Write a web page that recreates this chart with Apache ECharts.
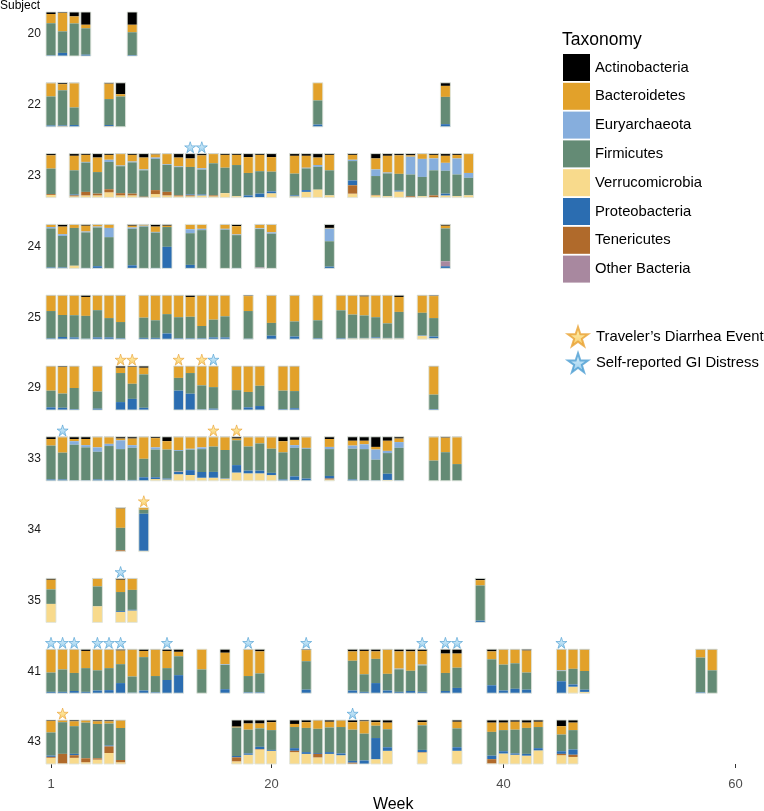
<!DOCTYPE html>
<html><head><meta charset="utf-8">
<script src="https://cdn.jsdelivr.net/npm/echarts@6/dist/echarts.min.js"></script>
<style>html,body{margin:0;padding:0;background:#fff}#c{width:764px;height:811px}</style>
</head><body><div id="c"></div>
<script>
const FONT = 'Liberation Sans, Arial, Helvetica, sans-serif';
const subjects = ['20','22','23','24','25','29','33','34','35','41','43'];
const taxa = ['Actinobacteria','Bacteroidetes','Euryarchaeota','Firmicutes','Verrucomicrobia','Proteobacteria','Tenericutes','Other Bacteria'];
const taxaColors = ['#000000','#E2A12A','#86AEDD','#648B75','#F8DA8C','#2B6DB1','#B06A2B','#A8889F'];
const stackOrder = [4,6,5,7,3,2,1,0]; // bottom -> top (indices into taxa)
const weekTicks = [1,20,40,60];
const eventNames = ["Traveler\u2019s Diarrhea Event", 'Self-reported GI Distress'];

// each sample: [week, Actino, Bacteroid, Euryarch, Firmic, Verruco, Proteo, Teneric, Other] (%)
const s20 = [[1,4.5,21,0,73,0,1.5,0,0],[2,2,42,0,49,0,7,0,0],[3,10,16,0,74,0,0,0,0],[4,29,8,0,60,0,3,0,0],[8,29,17,0,52,0,2,0,0]];
const s22 = [[1,1,30,0,66,0,3,0,0],[2,3,14,0,80,0,2,1,0],[3,1,55,0,40,0,4,0,0],[6,2,35,0,59,0,3,1,0],[7,26,5,0,69,0,0,0,0],[24,0,40,0,55,0,5,0,0],[35,7,25,0,62,0,6,0,0]];
const s23 = [[1,4,30,0,58,6,0,2,0],[3,5,33,0,55,3,2,2,0],[4,3,16,1.5,67,5,0,8,0],[5,9,33,0,49,5,0,4,0],[6,3,11,5,62,12,0,7,0],[7,1,26,1.5,61,5,0,5,0],[8,3,15,2,71,5,0,4,0],[9,9,27,2,60,0,0,2,0],[10,2,7,3,71,8,0,9,0],[11,1,23,1.5,61,5,0,8,0],[12,9,20,1.5,64,3,0,2,0],[13,11,19,0,62,3,2,2,0],[14,4,29,3,56,5,2,0,0],[15,1,21,0,73,3,0,2,0],[16,3,29,0,58,10,0,0,0],[17,3,23,0,71,3,0,0,0],[18,8,36,0,51,0,5,0,0],[19,3,37,0,51,1,8,0,0],[20,8,33,0,45,10,4,0,0],[22,5,40,0,49,3,2,0,0],[23,5,27,1.5,49,13,4,0,0],[24,9,17,4,52,18,0,0,0],[25,3,35,0,57,5,0,0,0],[27,3,11,3,44,9,11,19,0],[29,11,25,15,43,5,0,1,0],[30,5,38,2,52,3,0,0,0],[31,4,42,0,38,14,2,0,0],[32,4,3,40,49,0,0,3,0],[33,1,11,41,44,3,0,0,0],[34,3,8,27,57,0,0,5,0],[35,5,16,18,52,5,4,0,0],[36,3,8,36,49,3,0,0,0],[37,0,44,11,40,5,0,0,0]];
const s24 = [[1,1,5,3,88,0,2,0,0],[2,5,17,4,71,0,2,0,0],[3,1,7,0,86,6,0,0,0],[4,3,13,2,80,0,1,0,0],[5,1,4,2,88,0,5,0,0],[6,1,7,21,71,0,0,0,0],[8,3,4,3,83,1,6,0,0],[9,1,2,2,95,0,0,0,0],[10,5,12,1.5,80,0,1,0,0],[11,3,3,0,45,0,49,0,0],[13,0,11,9,72,0,8,0,0],[14,0,10,3,87,0,0,0,0],[16,1,9,2,88,0,0,0,0],[17,4,19,1.5,75,0,1,0,0],[19,1,8,1.5,87,0,0,0,2],[20,1,17,3,79,0,0,0,0],[25,8,1.5,29,58,0,4,0,0],[35,3,6,0,74,0,5,0,11]];
const s25 = [[1,1,35,0,62,0,2,0,0],[2,1,44,0,50,0,5,0,0],[3,1,44,0,50,0,4,0,0],[4,4,43,0,52,0,1,0,0],[5,1,33,0,62,0,4,0,0],[6,1,51,0,44,0,4,0,0],[7,1,60,0,37,0,2,0,0],[9,1,50,0,46,0,3,0,0],[10,1,56,0,40,0,3,0,0],[11,1,42,0,44,0,13,0,0],[12,1,49,0,48,0,2,0,0],[13,4,45,0,49,0,2,0,0],[14,1,69,0,28,0,2,0,0],[15,1,54,0,40,0,4,0,0],[16,1,47,0,48,0,4,0,0],[18,2,34,0,63,0,1,0,0],[20,1,62,0,29,0,8,0,0],[22,1,58,0,34,0,6,0,0],[24,1,56,0,41,0,2,0,0],[26,1,33,0,63,0,2,0,0],[27,1,43,0,53,2,1,0,0],[28,3,43,0,51,2,1,0,0],[29,1,49,0,46,2,2,0,0],[30,1,63,0,33,2,1,0,0],[31,4,34,0,59,2,1,0,0],[33,1,39,0,51,8,1,0,0],[34,2,50,0,42,2,4,0,0]];
const s29 = [[1,1,55,0,38,0,6,0,0],[2,2,60,0,32,0,5,0,0],[3,1,49,0,48,0,2,0,0],[5,1,57,0,39,0,3,0,0],[7,4,12,0,66,0,18,0,0],[8,2,38,0,34,0,25,0,0],[9,4,15,0,76,0,5,0,0],[12,1,26,0,29,0,44,0,0],[13,1,15,0,47,0,37,0,0],[14,1,43,0,55,0,1,0,0],[15,1,47,0,49,0,3,0,0],[17,1,54,0,45,0,0,0,0],[18,1,58,0,35,0,6,0,0],[19,1,44,0,46,0,9,0,0],[21,1,55,0,42,0,2,0,0],[22,1,56,0,39,0,4,0,0],[34,1,64,0,33,0,2,0,0]];
const s33 = [[1,5,15,0,77,0,3,0,0],[2,1,35,0,61,0,3,0,0],[3,5,5,8,81,0,1,0,0],[4,5,14,5,75,0,1,0,0],[5,1,23,10,63,0,3,0,0],[6,1,15,5,77,0,2,0,0],[7,4,4,20,71,0,1,0,0],[8,4,15,6,73,0,2,0,0],[9,1,49,0,42,0,8,0,0],[10,3,21,5,63,4,4,0,0],[11,10,19,0,66,3,2,0,0],[12,1,29,2,47,15,5,0,1],[13,1,26,2,46,13,11,0,0],[14,1,23,4,52,7,13,0,0],[15,1,21,0,57,7,13,0,0],[16,1,29,0,64,5,1,0,0],[17,4,4,0,57,19,17,0,0],[18,1,21,0,55,17,6,0,0],[19,1,14,0,62,17,6,0,0],[20,1,26,0,55,13,5,0,0],[21,10,25,0,61,0,3,0,0],[22,7,12,6,65,2,8,0,0],[23,1,24,2,67,0,5,0,0],[25,5,18,5,61,3,6,2,0],[27,9,11,7,70,0,3,0,0],[28,9,8,11,71,0,1,0,0],[29,23,6,23,47,0,1,0,0],[30,9,23,5,47,2,14,0,0],[31,4,8,13,74,0,1,0,0],[34,1,53,0,46,0,0,0,0],[35,2,33,0,65,0,0,0,0],[36,1,61,0,38,0,0,0,0]];
const s34 = [[7,2,44,0,51,0,0,3,0],[9,0,5,0,9,2,84,0,0]];
const s35 = [[1,3,22,0,33,42,0,0,0],[5,1,17,0,45,36,0,0,0],[7,3,28,0,43,24,2,0,0],[8,1,25,0,45,27,1.5,0,0],[38,4,12,0,80,0,4,0,0]];
const s41 = [[1,1,52,0,44,0,3,0,0],[2,1,45,0,51,0,3,0,0],[3,1,53,0,41,0,5,0,0],[4,4,39,0,54,0,3,0,0],[5,1,47,0,46,0,6,0,0],[6,1,42,0,50,0,7,0,0],[7,3,31,0,43,0,23,0,0],[8,1,61,0,37,0,1,0,0],[9,4,14,0,76,0,6,0,0],[10,1,60,0,37,0,2,0,0],[11,4,39,0,27,0,30,0,0],[12,6,10,0,43,0,41,0,0],[14,0,46,0,54,0,0,0,0],[16,8,26,1.5,55,0,9,0,0],[18,1,60,0,37,0,2,0,0],[19,5,50,0,43,0,2,0,0],[23,2,25,0,64,0,8,0,0],[27,5,21,0,67,0,6,0,0],[28,4,53,0,40,0,3,0,0],[29,5,17,0,55,0,23,0,0],[30,1,55,0,38,0,6,0,0],[31,5,39,1.5,51,0,3,0,0],[32,5,44,0,46,0,5,0,0],[33,4,31,2,60,0,3,0,0],[35,10,44,0,41,0,5,0,0],[36,10,32,0,46,0,12,0,0],[39,5,18,0,59,0,18,0,0],[40,1,34,0,59,0,6,0,0],[41,1,31,0,58,0,10,0,0],[42,3,50,0,39,0,8,0,0],[45,1,47,1.5,23,0,27,0,0],[46,1,44,0,36,15,5,0,0],[47,1,49,0,43,3,5,0,0],[57,1,18,0,79,0,2,0,0],[58,1,47,0,52,0,0,0,0]];
const s43 = [[1,2,26,0,52,14,3,2,0],[2,1,4,0,72,1,0,22,0],[3,3,11,0,63,14,3,6,0],[4,1,5,0,81,4,0,9,0],[5,3,6,0,78,10,0,3,0],[6,3,5,0,50,25,2,15,0],[7,1,17,0,72,4,0,5,0],[17,15,2,0,64,6,3,9,0],[18,8,14,0,54,21,3,0,0],[19,8,11,0,42,33,5,1,0],[20,5,18,0,45,30,2,0,0],[22,9,7,0,48,27,6,3,0],[23,5,13,0,55,23,4,0,0],[24,1,19,0,55,15,2,8,0],[25,4,13,0,56,23,4,0,0],[26,1,15,0,60,20,4,0,0],[27,5,17,0,71,0,4,3,0],[28,3,28,0,61,0,8,0,0],[29,5,8,0,28,11,48,0,0],[30,6,15,0,41,30,8,0,0],[33,5,7,0,56,26,5,1,0],[36,4,15,0,43,30,8,0,0],[39,6,21,0,54,1,8,10,0],[40,6,17,0,48,24,5,0,0],[41,4,18,0,54,21,3,0,0],[42,6,12,0,59,19,4,0,0],[43,4,12,0,48,31,5,0,0],[45,14,19,0,38,20,6,3,0],[46,6,17,0,44,16,12,5,0]];
const samplesBySubject = [s20,s22,s23,s24,s25,s29,s33,s34,s35,s41,s43];

// event stars: [subject, week]
const travelersDiarrhea = [['29',7],['29',8],['29',12],['29',14],['33',15],['33',17],['34',9],['43',2]];
const giDistress = [['23',13],['23',14],['29',15],['33',2],['35',7],['41',1],['41',2],['41',3],['41',5],['41',6],['41',7],['41',11],['41',18],['41',23],['41',33],['41',35],['41',36],['41',45],['43',27]];

const STAR = 'path://M50,2 L61.5,37 L98,37 L68.5,58.5 L79.5,94 L50,72 L20.5,94 L31.5,58.5 L2,37 L38.5,37 Z';
const starStyles = [
  {color:{type:'linear',x:0,y:0,x2:0,y2:1,colorStops:[{offset:0,color:'#FFF3A8'},{offset:1,color:'#F7BE45'}]}, borderColor:'#E9A132', borderWidth:0.8},
  {color:{type:'linear',x:0,y:0,x2:0,y2:1,colorStops:[{offset:0,color:'#D4EEFB'},{offset:1,color:'#7DC0E8'}]}, borderColor:'#4C9DD2', borderWidth:0.8}
];

const HALF = 0.43;
const ROW0 = 1, ROWSTEP = 70.8, GRIDH = 55;
const grids = [], xAxes = [], yAxes = [], series = [];

subjects.forEach((subj, i) => {
  const last = i === subjects.length - 1;
  grids.push({left: 39.4, width: 707.6, top: ROW0 + ROWSTEP * i, height: GRIDH, containLabel: false, outerBoundsMode: 'none'});
  xAxes.push({
    gridIndex: i, type: 'value', min: 0, max: 61,
    show: last, offset: 6,
    axisLine: {show: false}, splitLine: {show: false},
    axisTick: {show: last, length: 4, customValues: weekTicks, lineStyle: {color: '#333', width: 1}},
    axisLabel: {show: last, customValues: weekTicks, margin: 7.5, fontSize: 13, color: '#4d4d4d', fontFamily: FONT},
    name: last ? 'Week' : '', nameLocation: 'middle', nameGap: 27,
    nameTextStyle: {fontSize: 16, color: '#000', fontFamily: FONT}
  });
  yAxes.push({
    gridIndex: i, type: 'value', min: 0, max: 1.25,
    axisLine: {show: false}, axisTick: {show: false}, splitLine: {show: false},
    axisLabel: {customValues: [0.5], formatter: () => subj, margin: -1.5, fontSize: 12, color: '#1a1a1a', fontFamily: FONT}
  });
  const samples = samplesBySubject[i];
  const segs = taxa.map(() => []);
  samples.forEach(s => {
    const total = s.slice(1).reduce((a, b) => a + b, 0);
    let cum = 0;
    stackOrder.forEach(k => {
      const v = s[k + 1] / total;
      if (v > 0) segs[k].push([s[0], cum, cum + v]);
      cum += v;
    });
  });
  taxa.forEach((name, k) => {
    series.push({
      type: 'custom', name, xAxisIndex: i, yAxisIndex: i,
      itemStyle: {color: taxaColors[k]}, silent: true,
      encode: {x: 0, y: [1, 2]},
      data: segs[k],
      renderItem: (params, api) => {
        const a = api.coord([api.value(0) - HALF, api.value(2)]);
        const b = api.coord([api.value(0) + HALF, api.value(1)]);
        return {type: 'rect', shape: {x: a[0], y: a[1], width: b[0] - a[0], height: b[1] - a[1]},
                style: {fill: api.visual('color')}};
      }
    });
  });
  // outline of each bar
  series.push({
    type: 'custom', xAxisIndex: i, yAxisIndex: i, silent: true, z: 3,
    encode: {x: 0, y: 1},
    data: samples.map(s => [s[0], 0, 1]),
    renderItem: (params, api) => {
      const a = api.coord([api.value(0) - HALF, api.value(2)]);
      const b = api.coord([api.value(0) + HALF, api.value(1)]);
      return {type: 'rect', shape: {x: a[0], y: a[1], width: b[0] - a[0], height: b[1] - a[1]},
              style: {fill: 'none', stroke: '#dfe4dc', lineWidth: 0.9}};
    }
  });
  [travelersDiarrhea, giDistress].forEach((list, e) => {
    const pts = list.filter(p => p[0] === subj).map(p => [p[1], 1.145]);
    series.push({
      type: 'scatter', name: eventNames[e], xAxisIndex: i, yAxisIndex: i,
      symbol: STAR, symbolSize: 11, silent: true, clip: false,
      itemStyle: starStyles[e], data: pts, z: 4
    });
  });
});

const chart = echarts.init(document.getElementById('c'), null, {renderer: 'canvas'});
chart.setOption({
  animation: false,
  backgroundColor: '#fff',
  title: [
    {text: 'Subject', left: 0, top: 0, padding: 0, textStyle: {fontSize: 12, fontWeight: 'normal', color: '#000', fontFamily: FONT}},
    {text: 'Taxonomy', left: 562, top: 31, padding: 0, textStyle: {fontSize: 17.5, fontWeight: 'normal', color: '#000', fontFamily: FONT}}
  ],
  legend: [
    {data: taxa, orient: 'vertical', left: 563, top: 54, padding: 0, itemWidth: 27, itemHeight: 27, itemGap: 1.8,
     icon: 'rect', selectedMode: false, textStyle: {fontSize: 14.8, color: '#000', fontFamily: FONT}},
    {data: eventNames, orient: 'vertical', left: 567, top: 326, padding: 0, itemWidth: 20, itemHeight: 20, itemGap: 5,
     selectedMode: false, textStyle: {fontSize: 14.8, color: '#000', fontFamily: FONT, padding: [0, 0, 0, 3]}}
  ],
  grid: grids, xAxis: xAxes, yAxis: yAxes, series
});
</script></body></html>
